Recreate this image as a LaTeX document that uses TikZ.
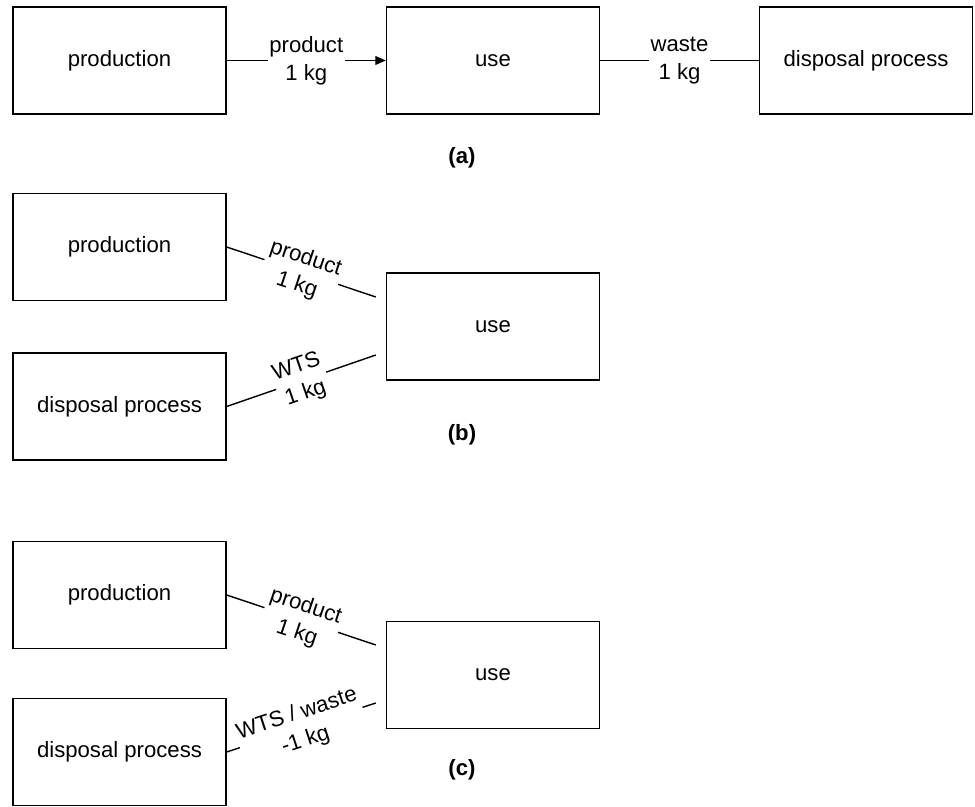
\documentclass[tikz,border=0pt]{standalone}
\usepackage{fontspec}
\setmainfont{Liberation Sans}
\usetikzlibrary{positioning, arrows.meta, calc}
\tikzset{
  procbox/.style={draw, line width=0.8pt, minimum width=4.26cm, minimum height=2.14cm,
    inner sep=2pt, font=\fontsize{12.6}{14}\selectfont},
  flowlabel/.style={fill=white, inner sep=1pt, align=center,
    font=\fontsize{12.6}{16}\selectfont},
  caption/.style={font=\fontsize{12.6}{14}\selectfont\bfseries},
  flow/.style={line width=0.8pt}
}
\begin{document}
\begin{tikzpicture}[x=0.02cm, y=-0.02cm]
\useasboundingbox (0,0) rectangle (975,807);

% (a)
\node [procbox] (prodA) at (119.5,60.5) {production};
\node [procbox] (useA) at (493,60.5) {use};
\node [procbox] (dispA) at (866,60.5) {disposal process};
\draw [flow, -{Triangle[length=6pt,width=5pt]}] (prodA) -- node [flowlabel] {product\\1 kg} (useA);
\draw [flow] (useA) -- node [flowlabel] {waste\\1 kg} (dispA);
\node [caption] (capA) at (462,158) {(a)};

% (b)
\node [procbox] (prodB) at (119.5,247) {production};
\node [procbox] (useB) at (493,326.5) {use};
\node [procbox] (dispB) at (119.5,406.5) {disposal process};
\coordinate (inB1) at ([shift={(-10,-29.5)}]useB.west);
\coordinate (inB2) at ([shift={(-10,28.5)}]useB.west);
\draw [flow] (prodB.east) -- node [flowlabel, sloped] {product\\1 kg} (inB1);
\draw [flow] (dispB.east) -- node [flowlabel, sloped] {WTS\\1 kg} (inB2);
\node [caption] (capB) at (462,435) {(b)};

% (c)
\node [procbox] (prodC) at (119.5,595) {production};
\node [procbox] (useC) at (493,675) {use};
\node [procbox] (dispC) at (119.5,752) {disposal process};
\coordinate (inC1) at ([shift={(-10,-30)}]useC.west);
\coordinate (inC2) at ([shift={(-10,28)}]useC.west);
\draw [flow] (prodC.east) -- node [flowlabel, sloped] {product\\1 kg} (inC1);
\draw [flow] (dispC.east) -- node [flowlabel, sloped] {WTS / waste\\-1 kg} (inC2);
\node [caption] (capC) at (462,770) {(c)};

\end{tikzpicture}
\end{document}
